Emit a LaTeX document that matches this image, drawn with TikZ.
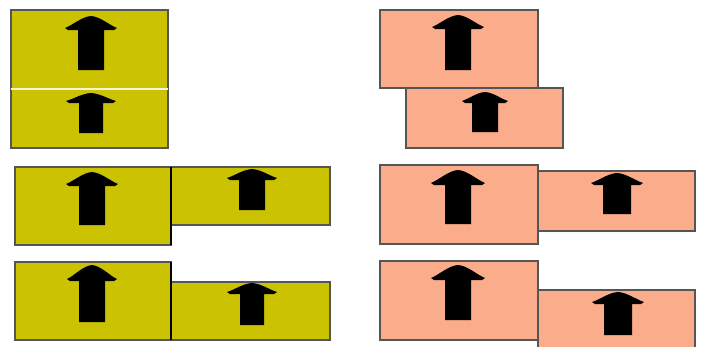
\documentclass[tikz,border=0pt]{standalone}
\definecolor{olive}{RGB}{203,195,2}
\definecolor{salmon}{RGB}{251,172,138}
\definecolor{edge}{RGB}{85,85,85}
\tikzset{
  x=1pt, y=-1pt,
  panel/.style={draw=edge, line width=1.3pt},
  ybox/.style={panel, fill=olive},
  sbox/.style={panel, fill=salmon},
  uparrow/.style={fill=black, draw=none}
}
% block arrow pointing up with a rounded roof:
% tip x, tip y, wing y, wing half-width, shaft half-width, bottom y
\newcommand{\blockup}[6]{%
  \fill[uparrow] (#1,#2)
    .. controls (#1+0.35*#4,#2+0.05*#3-0.05*#2) and (#1+0.7*#4,#3-0.25*#3+0.25*#2) .. (#1+#4,#3)
    -- (#1+#4-3,#3+2) -- (#1+#5,#3+2) -- (#1+#5,#6)
    -- (#1-#5,#6) -- (#1-#5,#3+2) -- (#1-#4+3,#3+2) -- (#1-#4,#3)
    .. controls (#1-0.7*#4,#3-0.25*#3+0.25*#2) and (#1-0.35*#4,#2+0.05*#3-0.05*#2) .. cycle;}
\begin{document}
\begin{tikzpicture}
\useasboundingbox (0,0) rectangle (703,346);
\fill[white] (0,0) rectangle (703,346);

% ---- left column, stacked pair ----
\draw[ybox] (11,10) rectangle (168,89);
\draw[ybox] (11,89) rectangle (168,148);
\draw[white!85!olive, line width=1.3pt] (11,89) -- (168,89);
\blockup{91}{16}{28}{26}{13}{70}
\blockup{91}{93}{101}{25}{12}{133}

% ---- right column, stacked pair with offset ----
\draw[sbox] (380,10) rectangle (538,88);
\draw[sbox] (406,88) rectangle (563,148);
\blockup{458}{15}{27}{26}{13}{70}
\blockup{485}{92}{101}{23}{13}{132}

% ---- left column, side by side, tops aligned ----
\draw[ybox] (15,167) rectangle (171,245);
\draw[ybox] (171,167) rectangle (330,225);
\draw[black, line width=1.3pt] (171,167) -- (171,245);
\blockup{92}{172}{184}{26}{13}{225}
\blockup{252}{169}{178}{25}{13}{210}

% ---- left column, side by side, bottoms aligned ----
\draw[ybox] (15,262) rectangle (171,340);
\draw[ybox] (171,282) rectangle (330,340);
\draw[black, line width=1.3pt] (171,262) -- (171,340);
\blockup{92}{265}{279}{25}{13}{322}
\blockup{252}{283}{292}{25}{12}{325}

% ---- right column, side by side, second box lower ----
\draw[sbox] (380,165) rectangle (538,244);
\draw[sbox] (538,171) rectangle (695,231);
\blockup{458}{170}{183}{27}{13}{224}
\blockup{617}{173}{183}{26}{14}{214}

% ---- right column, side by side, second box much lower ----
\draw[sbox] (380,261) rectangle (538,340);
\draw[sbox] (538,290) rectangle (695,348);
\blockup{458}{265}{278}{27}{13}{320}
\blockup{618}{292}{302}{26}{14}{335}
\end{tikzpicture}
\end{document}
